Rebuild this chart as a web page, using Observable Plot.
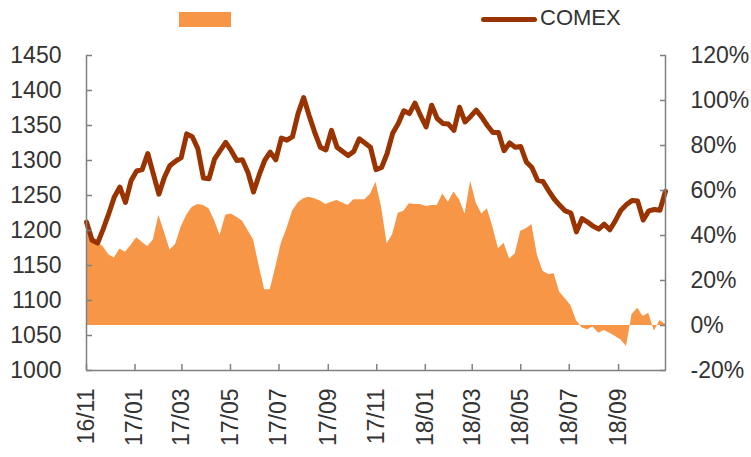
<!DOCTYPE html>
<html>
<head>
<meta charset="utf-8">
<script src="https://cdn.jsdelivr.net/npm/d3@7"></script>
<script src="https://cdn.jsdelivr.net/npm/@observablehq/plot@0.6"></script>
<style>
  body { margin: 0; background: #fff; }
  #wrap { position: relative; width: 751px; height: 457px; font-family: "Liberation Sans", Arial, sans-serif; }
  #legend { position: absolute; left: 0; top: 0; width: 751px; height: 40px; z-index: 2; }
  .sw-area { position: absolute; left: 179px; top: 12px; width: 52px; height: 15px; background: #F79646; }
  .sw-line { position: absolute; left: 481px; top: 17px; width: 56px; height: 5px; border-radius: 3px; background: #993300; }
  .lg-text { position: absolute; left: 540px; top: 5px; font-size: 22px; color: #333; line-height: 26px; }
  #chart { position: absolute; left: 0; top: 0; }
</style>
</head>
<body>
<div id="wrap">
  <div id="legend">
    <div class="sw-area"></div>
    <div class="sw-line"></div>
    <div class="lg-text" id="lgLabel"></div>
  </div>
  <div id="chart"></div>
</div>
<script>
// ---- data ----
const seriesLineName = "COMEX";
const startDate = "2016-11-01"; // weekly observations
const comex = [
  1212, 1186, 1182, 1202, 1224, 1248, 1262, 1240, 1271, 1285,
  1287, 1310, 1281, 1252, 1276, 1293, 1299, 1304, 1338, 1334,
  1317, 1275, 1274, 1302, 1314, 1326, 1314, 1300, 1301, 1283,
  1255, 1279, 1300, 1312, 1301, 1332, 1329, 1334, 1367, 1390,
  1364, 1340, 1319, 1315, 1343, 1319, 1313, 1307, 1313, 1331,
  1325, 1319, 1287, 1290, 1310, 1339, 1353, 1371, 1367, 1382,
  1364, 1348, 1379, 1360, 1353, 1352, 1343, 1376, 1355, 1363,
  1372, 1362, 1350, 1340, 1340, 1314, 1325, 1319, 1320, 1298,
  1290, 1272, 1270, 1257, 1245, 1236, 1228, 1225, 1198, 1217,
  1212, 1206, 1202, 1209, 1201, 1214, 1229, 1237, 1243, 1242,
  1215, 1228, 1230, 1229, 1256
];
const areaPct = [
  48, 40, 37, 35, 31.5, 30, 34, 32.6, 35.6, 39,
  37, 35, 38, 49, 41.5, 33.6, 36, 43.7, 49, 52.6,
  53.8, 53.3, 51.9, 46.7, 40, 49, 49.6, 48.1, 46.4, 42.2,
  38.1, 26.7, 15.9, 15.9, 25.9, 36.6, 43, 50.8, 54.4, 56.3,
  57, 56.3, 55.3, 53.8, 54.8, 55.6, 54.4, 53.3, 55.9, 55.9,
  55.9, 58.3, 63.7, 52.6, 36.3, 40.4, 49.9, 50.8, 54.1, 53.8,
  53.8, 52.9, 53.3, 53.3, 58.5, 54.8, 59.3, 55.9, 49.6, 64.1,
  54.4, 49.6, 51.9, 43.7, 34.1, 36.6, 29.6, 31.8, 41.9, 43,
  44.9, 31.1, 24.1, 22.7, 23, 14.8, 11.9, 8.9, 2.2, -1,
  -1.9, -0.7, -3.4, -2.2, -3.4, -4.9, -6.4, -9.3, 4.9, 7.7,
  4, 5.5, -2.5, 2.2, 0.4
];
const xTickLabels = ["16/11","17/01","17/03","17/05","17/07","17/09","17/11","18/01","18/03","18/05","18/07","18/09"];
const leftTicks = [1000,1050,1100,1150,1200,1250,1300,1350,1400,1450];
const rightTicks = [-20,0,20,40,60,80,100,120];

// ---- build ----
document.getElementById("lgLabel").textContent = seriesLineName;

const leftMin = 1000, leftMax = 1450, pctMin = -20, pctMax = 120;
const toLeft = p => leftMin + (p - pctMin) * (leftMax - leftMin) / (pctMax - pctMin);
const toPct = v => (v - leftMin) * (pctMax - pctMin) / (leftMax - leftMin) + pctMin;

const start = new Date(startDate + "T00:00:00Z");
const rows = comex.map((v, i) => ({
  date: d3.utcDay.offset(start, 7 * i),
  comex: v,
  pctL: toLeft(areaPct[i])
}));
const tickDates = xTickLabels.map(s => {
  const [yy, mm] = s.split("/").map(Number);
  return new Date(Date.UTC(2000 + yy, mm - 1, 1));
});
const labelByTime = new Map(tickDates.map((d, i) => [+d, xTickLabels[i]]));
const axisGrey = "#808080";
const textCol = "#333";

const chart = Plot.plot({
  width: 751,
  height: 457,
  marginLeft: 86,
  marginRight: 86,
  marginTop: 55,
  marginBottom: 87,
  style: { fontFamily: "Liberation Sans, Arial, sans-serif", fontSize: "23px", color: textCol, background: "transparent", overflow: "visible" },
  x: { type: "utc", domain: [rows[0].date, rows[rows.length - 1].date] },
  y: { domain: [leftMin, leftMax] },
  marks: [
    Plot.areaY(rows, { x: "date", y1: toLeft(0), y2: "pctL", fill: "#F79646", curve: "linear" }),
    Plot.lineY(rows, { x: "date", y: "comex", stroke: "#993300", strokeWidth: 5, strokeLinejoin: "round", strokeLinecap: "round" }),
    Plot.ruleX([rows[0].date, rows[rows.length - 1].date], { stroke: axisGrey, strokeWidth: 1.5 }),
    Plot.ruleY([leftMin], { stroke: axisGrey, strokeWidth: 1.5 }),
    // left axis
    Plot.axisY(leftTicks, { anchor: "left", tickSize: 0, tickPadding: 25, fill: textCol, fontSize: 23, label: null,
      tickFormat: d => String(d) }),
    Plot.axisY(leftTicks, { anchor: "left", tickSize: 6, dx: 6, tickFormat: () => "", stroke: axisGrey, strokeWidth: 1.5, label: null }),
    // right axis (percent)
    Plot.axisY(rightTicks.map(toLeft), { anchor: "right", tickSize: 0, tickPadding: 25, fill: textCol, fontSize: 23, label: null,
      tickFormat: d => Math.round(toPct(d)) + "%" }),
    Plot.axisY(rightTicks.map(toLeft), { anchor: "right", tickSize: 6, dx: -6, tickFormat: () => "", stroke: axisGrey, strokeWidth: 1.5, label: null }),
    // bottom axis
    Plot.axisX(tickDates, { anchor: "bottom", tickSize: 6, dy: -6, tickFormat: () => "", stroke: axisGrey, strokeWidth: 1.5, label: null }),
    Plot.axisX(tickDates, { anchor: "bottom", tickSize: 0, tickPadding: 18, tickRotate: -90, fill: textCol, fontSize: 23, label: null,
      tickFormat: d => labelByTime.get(+d) })
  ]
});
document.getElementById("chart").appendChild(chart);
</script>
</body>
</html>
